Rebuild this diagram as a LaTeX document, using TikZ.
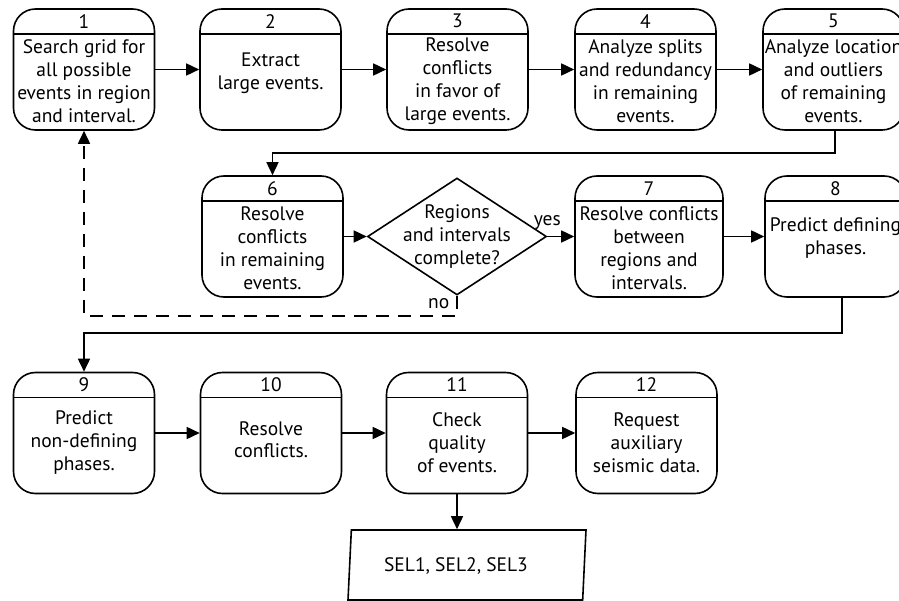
\documentclass[tikz,border=0pt]{standalone}
\usepackage{fontspec}
\setmainfont{PT Sans}
\usetikzlibrary{shapes.geometric,arrows.meta}

\begin{document}
\begin{tikzpicture}[x=1pt, y=-1pt, line width=1.6pt, >={Triangle[length=13pt,width=12pt]}]
        \tikzstyle{every node}=[font=\fontsize{19.5}{22.8}\selectfont]
        \tikzstyle{stepbox}=[draw, rounded corners=22pt, minimum width=141pt, minimum height=121pt, path picture={\draw ([yshift=-25pt]path picture bounding box.north west) -- ([yshift=-25pt]path picture bounding box.north east);}]
        \tikzstyle{num}=[anchor=center, yshift=-13pt, inner sep=0pt]
        \tikzstyle{body}=[anchor=center, yshift=-73pt, align=center, inner sep=0pt]
        \tikzstyle{short}=[yshift=8pt]
        \tikzstyle{flow}=[->]
        \tikzstyle{back}=[->, dash pattern=on 13pt off 9pt]
        \useasboundingbox (0,0) rectangle (899,601);
        % first row
        \node [stepbox, label={[num]north:1}, label={[body]north:{Search grid for\\all possible\\events in region\\and interval.}}] (s1) at (84,69.5) {};
        \node [stepbox, label={[num]north:2}, label={[body,short]north:{Extract\\large events.}}] (s2) at (270.5,69.5) {};
        \node [stepbox, label={[num]north:3}, label={[body]north:{Resolve\\conflicts\\in favor of\\large events.}}] (s3) at (457.5,69.5) {};
        \node [stepbox, label={[num]north:4}, label={[body]north:{Analyze splits\\and redundancy\\in remaining\\events.}}] (s4) at (645.5,69.5) {};
        \node [stepbox, label={[num]north:5}, label={[body]north:{Analyze location\\and outliers\\of remaining\\events.}}] (s5) at (833.5,69.5) {};
        % second row
        \node [stepbox, label={[num]north:6}, label={[body]north:{Resolve\\conflicts\\in remaining\\events.}}] (s6) at (272.5,236.5) {};
        \node [draw, diamond, shape aspect=1.53, inner sep=0pt, minimum width=179pt, minimum height=117pt] (d) at (457,236.5) {};
        \node [align=center, inner sep=0pt] (dq) at (d) {Regions\\and intervals\\complete?};
        \node [stepbox, minimum width=148pt, label={[num]north:7}, label={[body]north:{Resolve conflicts\\between\\regions and\\intervals.}}] (s7) at (649,236.5) {};
        \node [stepbox, label={[num]north:8}, label={[body,short,yshift=2pt]north:{Predict defining\\phases.}}] (s8) at (835.5,236.5) {};
        % third row
        \node [stepbox, label={[num]north:9}, label={[body,yshift=2pt]north:{Predict\\non-defining\\phases.}}] (s9) at (84,433) {};
        \node [stepbox, label={[num]north:10}, label={[body,short,yshift=-3pt]north:{Resolve\\conflicts.}}] (s10) at (271,433) {};
        \node [stepbox, label={[num]north:11}, label={[body,yshift=2pt]north:{Check\\quality\\of events.}}] (s11) at (457,433) {};
        \node [stepbox, label={[num]north:12}, label={[body,yshift=2pt]north:{Request\\auxiliary\\seismic data.}}] (s12) at (646.5,433) {};
        \node [draw, trapezium, trapezium left angle=63.4, trapezium right angle=116.6, trapezium stretches body, minimum width=238pt, minimum height=70pt] (sel) at (467,565) {};
        \node (selt) at (456,566) {SEL1, SEL2, SEL3};
        % connectors
        \draw [flow] (s1) -- (s2);
        \draw [flow] (s2) -- (s3);
        \draw [flow] (s3) -- (s4);
        \draw [flow] (s4) -- (s5);
        \draw [flow] ([xshift=1.5pt]s5.south) -- ++(0,22) -| (s6.north);
        \draw [flow] (s6) -- (d);
        \draw [flow] (d) -- node [at start, above, yshift=6pt, inner sep=0pt] (yes) {yes} (s7);
        \draw [back] (d.south) -- node [at start, below left, xshift=-5pt, inner sep=2pt] (no) {no} ++(0,20) -| (s1.south);
        \draw [flow] (s7) -- (s8);
        \draw [flow] ([xshift=6.5pt]s8.south) -- ++(0,35) -| (s9.north);
        \draw [flow] (s9) -- (s10);
        \draw [flow] (s10) -- (s11);
        \draw [flow] (s11) -- (s12);
        \draw [flow] (s11) -- (s11 |- sel.north);
\end{tikzpicture}
\end{document}
